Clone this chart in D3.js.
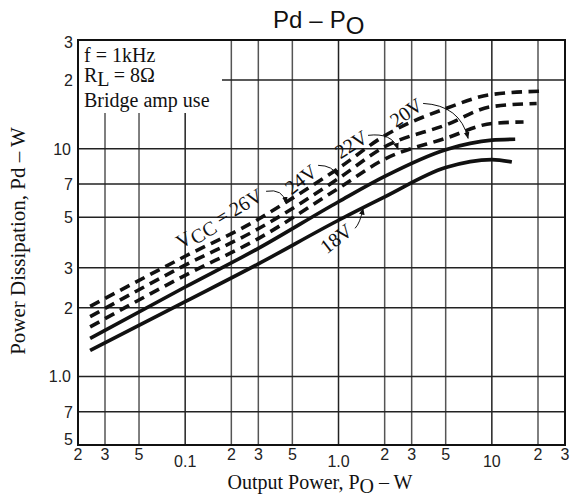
<!DOCTYPE html>
<html><head><meta charset="utf-8">
<script src="https://cdn.jsdelivr.net/npm/d3@7"></script>
<style>body{margin:0;background:#fff} svg{display:block}</style>
</head><body><svg id="c" width="571" height="499"></svg>
<script>
// ---- data ----
const xTickValues = [0.02,0.03,0.05,0.1,0.2,0.3,0.5,1,2,3,5,10,20,30];
const xTickLabels = ["2","3","5","0.1","2","3","5","1.0","2","3","5","10","2","3"];
const xMajor = [0.1,1,10];
const yTickValues = [0.5,0.7,1,2,3,5,7,10,20,30];
const yTickLabels = ["5","7","1.0","2","3","5","7","10","2","3"];

const seriesNames = ["26V","24V","22V","20V","18V"];
const seriesDashed = [true,true,true,false,false];
const po26 = [0.024,0.1,0.3,0.46,1,2,5,10,21.6];
const pd26 = [2.03,3.37,4.9,5.85,8.2,11.4,15.0,17.3,17.9];
const po24 = [0.024,0.1,0.3,1,2,5,10,19.6];
const pd24 = [1.83,3.08,4.45,7.4,10.2,12.7,15.3,15.8];
const po22 = [0.024,0.1,0.3,1,2,5,10,16.1];
const pd22 = [1.65,2.78,4.03,6.7,9.0,11.1,12.9,13.1];
const po20 = [0.024,0.1,0.3,1,2,5,10,14.2];
const pd20 = [1.47,2.47,3.65,5.85,7.56,9.9,10.9,11.0];
const po18 = [0.024,0.1,0.3,1,2,5,10,13.5];
const pd18 = [1.30,2.13,3.12,4.85,6.14,8.26,8.95,8.74];
const seriesPo = [po26,po24,po22,po20,po18];
const seriesPd = [pd26,pd24,pd22,pd20,pd18];

// annotation labels (data coords) and leader arrows
const annText = ["VCC = 26V","24V","22V","20V","18V"];
const annLabelX = [0.166,0.567,1.207,2.758,0.964];
const annLabelY = [4.95,7.34,10.45,14.44,4.04];
const annAngle = [-31,-38,-33,-35,-38];
const arrFrom = [[0.337,6.5],[0.736,8.45],[1.559,11.44],[3.562,15.8],[1.282,4.47]];
const arrCtrl = [[0.435,6.7],[0.921,8.45],[2.236,11.8],[6.21,15.5],[1.382,4.7]];
const arrTo = [[0.455,5.76],[0.993,7.56],[2.446,9.94],[7.0,11.1],[1.446,5.47]];

const noteLines = ["f = 1kHz","RL = 8Ω","Bridge amp use"];

// ---- chart ----
const svg = d3.select("#c");
const L=78,R=565,T=40,B=445;
const x = d3.scaleLog().domain([0.02,30]).range([L,R]);
const y = d3.scaleLog().domain([0.5,30]).range([B,T]);
const serif = "'Liberation Serif','Times New Roman',serif";
const sans = "'Liberation Sans',Arial,sans-serif";

// grid
svg.append("g").selectAll("line").data(xTickValues).join("line")
  .attr("x1",d=>x(d)).attr("x2",d=>x(d)).attr("y1",T).attr("y2",B)
  .attr("stroke",d=>xMajor.includes(d)?"#222":"#555").attr("stroke-width",1.5);
svg.append("g").selectAll("line").data(yTickValues).join("line")
  .attr("x1",L).attr("x2",R).attr("y1",d=>y(d)).attr("y2",d=>y(d))
  .attr("stroke","#222").attr("stroke-width",1.5);

// note box (white, covers grid)
svg.append("rect").attr("x",L+1).attr("y",T+1).attr("width",143).attr("height",72).attr("fill","#fff");

// border
svg.append("rect").attr("x",L).attr("y",T).attr("width",R-L).attr("height",B-T)
  .attr("fill","none").attr("stroke","#111").attr("stroke-width",2);

// tick labels
svg.append("g").selectAll("text").data(xTickValues).join("text")
  .attr("x",d=>x(d)).attr("y",d=>xMajor.includes(d)?467:460)
  .attr("text-anchor","middle").attr("font-family",sans).attr("font-size",16).attr("fill","#222")
  .text((d,i)=>xTickLabels[i]);
svg.append("g").selectAll("text").data(yTickValues).join("text")
  .attr("x",d=>(d===1||d===10)?71:73).attr("y",(d,i)=>y(d)+ (i===0?0:6) + (i===yTickValues.length-1?2:0))
  .attr("text-anchor","end").attr("font-family",sans).attr("font-size",16).attr("fill","#222")
  .text((d,i)=>yTickLabels[i]);

// curves
const line = d3.line().curve(d3.curveMonotoneX);
seriesNames.forEach((n,i)=>{
  const pts = seriesPo[i].map((v,j)=>[x(v), y(seriesPd[i][j])]);
  svg.append("path").attr("d",line(pts)).attr("fill","none")
    .attr("stroke","#111").attr("stroke-width",3.6)
    .attr("stroke-dasharray",seriesDashed[i]?"10.5,6.5":null);
});

// arrowhead marker
svg.append("defs").append("marker").attr("id","ah").attr("viewBox","0 0 10 10")
  .attr("refX",9).attr("refY",5).attr("markerWidth",7).attr("markerHeight",7)
  .attr("orient","auto").attr("markerUnits","userSpaceOnUse")
  .append("path").attr("d","M0,1 L10,5 L0,9 Z").attr("fill","#111");

// leaders
annText.forEach((t,i)=>{
  const p = d3.path();
  p.moveTo(x(arrFrom[i][0]),y(arrFrom[i][1]));
  p.quadraticCurveTo(x(arrCtrl[i][0]),y(arrCtrl[i][1]),x(arrTo[i][0]),y(arrTo[i][1]));
  svg.append("path").attr("d",p.toString()).attr("fill","none").attr("stroke","#111")
    .attr("stroke-width",1).attr("marker-end","url(#ah)");
});

// labels
annText.forEach((t,i)=>{
  const g = svg.append("g").attr("transform",`translate(${x(annLabelX[i])},${y(annLabelY[i])}) rotate(${annAngle[i]})`);
  const tx = g.append("text").attr("text-anchor","middle").attr("dy","0.35em")
    .attr("font-family",serif).attr("font-size",20).attr("fill","#111");
  if (t.startsWith("VCC")) {
    tx.append("tspan").text("V");
    tx.append("tspan").attr("dy",4).text("CC");
    tx.append("tspan").attr("dy",-4).text(t.slice(3));
  } else tx.text(t);
});

// note text
const nt = svg.append("g").attr("font-family",serif).attr("font-size",20).attr("fill","#111");
nt.append("text").attr("x",84).attr("y",62).text(noteLines[0]);
const r = nt.append("text").attr("x",84).attr("y",82);
r.append("tspan").text("R");
r.append("tspan").attr("dy",4).text("L");
r.append("tspan").attr("dy",-4).text(noteLines[1].slice(2));
nt.append("text").attr("x",84).attr("y",107).text(noteLines[2]);

// title
const tt = svg.append("text").attr("x",273).attr("y",28)
  .attr("font-family",sans).attr("font-size",24).attr("fill","#111");
tt.append("tspan").text("Pd");
tt.append("tspan").attr("dx",7).text("\u2013");
tt.append("tspan").attr("dx",7).text("P");
tt.append("tspan").attr("dy",6).text("O");

// axis titles
const xt = svg.append("text").attr("x",320).attr("y",489).attr("text-anchor","middle")
  .attr("font-family",serif).attr("font-size",20).attr("fill","#111");
xt.append("tspan").text("Output Power, P");
xt.append("tspan").attr("dy",4).text("O");
xt.append("tspan").attr("dy",-4).text(" \u2013 W");

svg.append("text").attr("transform","translate(25,241) rotate(-90)").attr("text-anchor","middle")
  .attr("font-family",serif).attr("font-size",21).attr("fill","#111")
  .text("Power Dissipation, Pd \u2013 W");
</script></body></html>
